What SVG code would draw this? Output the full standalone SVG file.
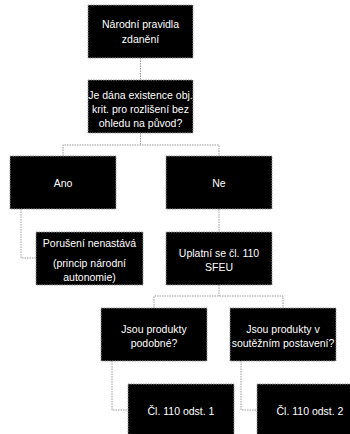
<svg xmlns="http://www.w3.org/2000/svg" width="350" height="434" viewBox="0 0 350 434">
<style>
.box{fill:#000;stroke:#9a9a9a;stroke-width:1;stroke-dasharray:1.5 1}
.c{fill:none;stroke:#9a9a9a;stroke-width:1;stroke-dasharray:1.5 1}
text{font-family:"Liberation Sans",Arial,sans-serif;font-size:10.5px;fill:#fff;text-anchor:middle}
</style>
<rect width="350" height="434" fill="#fff"/>
<g id="connectors">
<path class="c" d="M140.5 58V80"/>
<path class="c" d="M140.5 133V145M63 156V145H219V156"/>
<path class="c" d="M21 209V258H36"/>
<path class="c" d="M219 209V232"/>
<path class="c" d="M219 285V296M154 308V296H283V308"/>
<path class="c" d="M112 361V410H128"/>
<path class="c" d="M241 361V410H257"/>
</g>
<g id="n1"><rect class="box" x="88" y="5" width="105" height="53"/>
<text x="140.5" y="28">Národní pravidla</text><text x="140.5" y="42.5">zdanění</text></g>
<g id="n2"><rect class="box" x="88" y="80" width="105" height="53"/>
<text x="140.5" y="99">Je dána existence obj.</text><text x="140.5" y="113">krit. pro rozlišení bez</text><text x="140.5" y="127">ohledu na původ?</text></g>
<g id="n3"><rect class="box" x="10" y="156" width="106" height="53"/>
<text x="63" y="186.5">Ano</text></g>
<g id="n4"><rect class="box" x="166" y="156" width="106" height="53"/>
<text x="219" y="186.5">Ne</text></g>
<g id="n5"><rect class="box" x="36" y="232" width="107" height="53"/>
<text x="89.5" y="247">Porušení nenastává</text><text x="89.5" y="267">(princip národní</text><text x="89.5" y="281">autonomie)</text></g>
<g id="n6"><rect class="box" x="166" y="232" width="106" height="53"/>
<text x="219" y="257">Uplatní se čl. 110</text><text x="219" y="271">SFEU</text></g>
<g id="n7"><rect class="box" x="101" y="308" width="106" height="53"/>
<text x="154" y="333">Jsou produkty</text><text x="154" y="347">podobné?</text></g>
<g id="n8"><rect class="box" x="230" y="308" width="106" height="53"/>
<text x="283" y="333">Jsou produkty v</text><text x="283" y="347">soutěžním postavení?</text></g>
<g id="n9"><rect class="box" x="128" y="384" width="106" height="53"/>
<text x="181" y="415">Čl. 110 odst. 1</text></g>
<g id="n10"><rect class="box" x="257" y="384" width="106" height="53"/>
<text x="310" y="415">Čl. 110 odst. 2</text></g>
</svg>
